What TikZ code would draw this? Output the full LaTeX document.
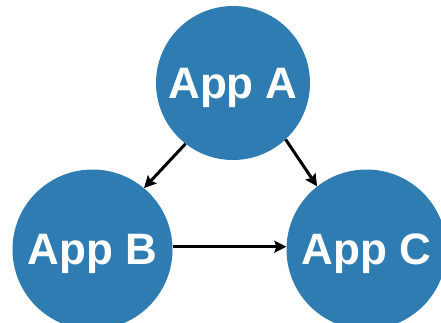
\documentclass[tikz,border=0pt]{standalone}
\usepackage{fontspec}
\setmainfont{Liberation Sans}
\usetikzlibrary{arrows.meta}
\definecolor{appblue}{RGB}{46,124,178}
\tikzset{
  app/.style={circle, fill=appblue, inner sep=0pt, minimum size=#1,
    text=white, text depth=0pt, font=\fontsize{44}{44}\selectfont\bfseries},
  link/.style={draw=black, line width=3pt,
    -{Stealth[length=12pt,width=12pt,inset=2pt]}}
}
\begin{document}
\begin{tikzpicture}[x=1pt,y=1pt]
  \useasboundingbox (0,0) rectangle (441,-322);
  \node[app=154pt] (A) at (233,-83) {App A};
  \node[app=160pt] (B) at (92.5,-249.5) {App B};
  \node[app=160pt] (C) at (366.5,-249.5) {App C};
  \draw[link] (A.232) -- (B.50);
  \draw[link] (A.313) -- (C.128);
  \draw[link] (B.2) -- (C.178);
\end{tikzpicture}
\end{document}
